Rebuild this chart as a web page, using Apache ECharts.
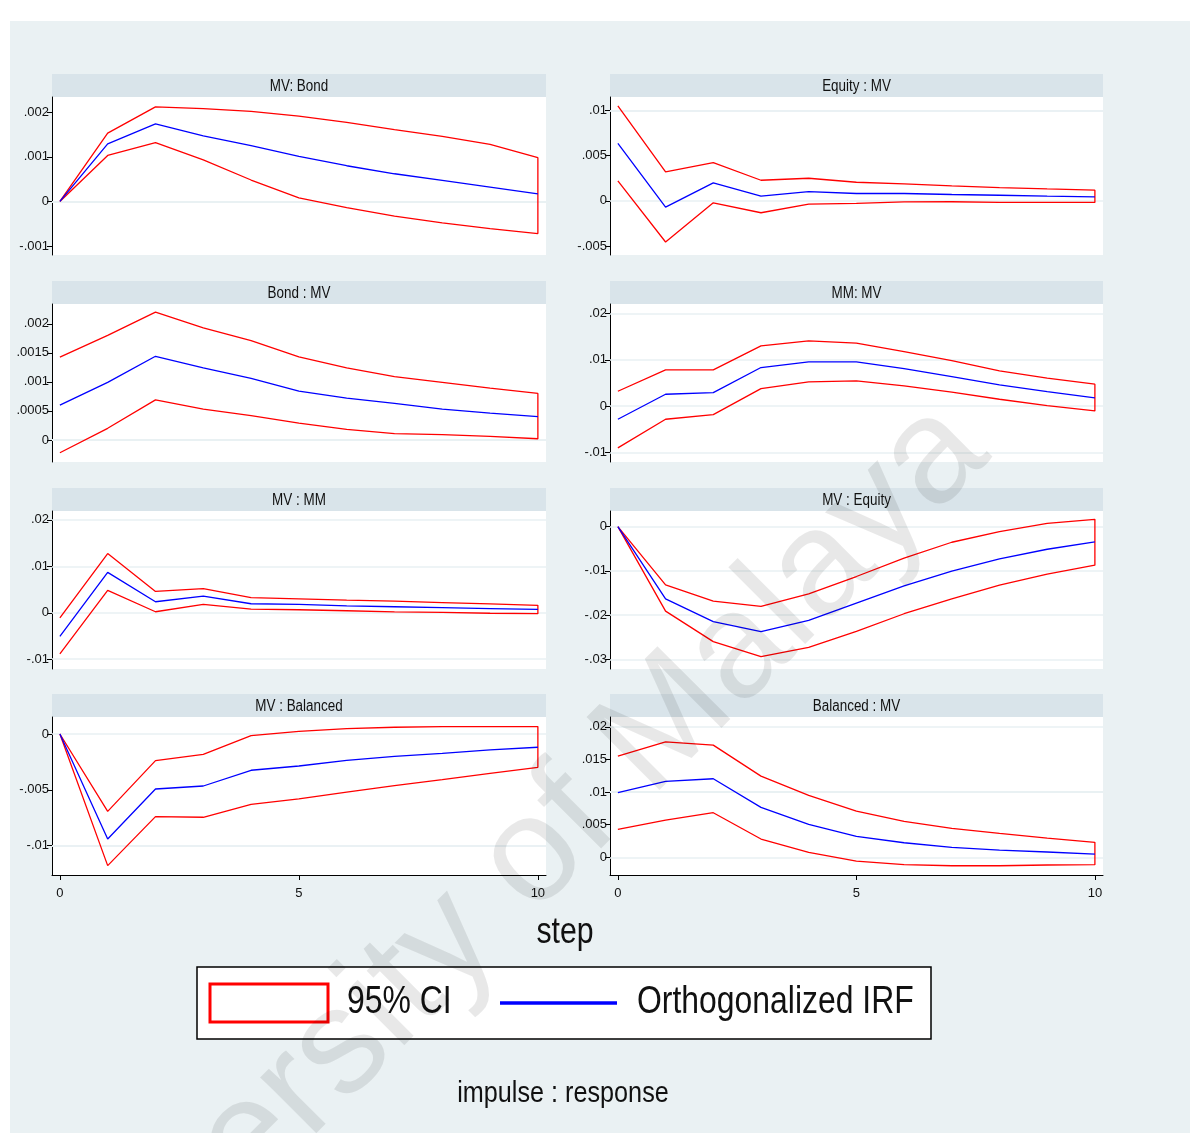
<!DOCTYPE html>
<html><head><meta charset="utf-8">
<script src="https://cdn.jsdelivr.net/npm/echarts@6/dist/echarts.min.js"></script>
<style>html,body{margin:0;padding:0;background:#fff}#c{width:1197px;height:1133px}</style>
</head><body><div id="c"></div>
<script>
// ---------- data ----------
const steps = [0,1,2,3,4,5,6,7,8,9,10];
const xTicks = [0,5,10];
const panelTitles = ['MV: Bond','Equity : MV','Bond : MV','MM: MV','MV : MM','MV : Equity','MV : Balanced','Balanced : MV'];

const mvBondHi  = [0, 0.00153, 0.00212, 0.00208, 0.00202, 0.00191, 0.00177, 0.00161, 0.00146, 0.00128, 0.00098];
const mvBondIrf = [0, 0.00129, 0.00174, 0.00147, 0.00125, 0.00101, 0.0008, 0.00062, 0.00047, 0.00032, 0.00017];
const mvBondLo  = [0, 0.00103, 0.00132, 0.00093, 0.00048, 0.00008, -0.00014, -0.00033, -0.00048, -0.00061, -0.00072];

const eqMvHi  = [0.01051, 0.0032, 0.00423, 0.00228, 0.0025, 0.00206, 0.00188, 0.00165, 0.00147, 0.00132, 0.00118];
const eqMvIrf = [0.00636, -0.0007, 0.00199, 0.00051, 0.00103, 0.00081, 0.00081, 0.0007, 0.00062, 0.00051, 0.00044];
const eqMvLo  = [0.0022, -0.00456, -0.00022, -0.00132, -0.00037, -0.00029, -0.00011, -0.0001, -0.00018, -0.00018, -0.00018];

const bondMvHi  = [0.001425, 0.0018, 0.0022, 0.00193, 0.00171, 0.00143, 0.00124, 0.00109, 0.00099, 0.00089, 0.0008];
const bondMvIrf = [0.0006, 0.00099, 0.00144, 0.00124, 0.00106, 0.00084, 0.00072, 0.00063, 0.00053, 0.00046, 0.0004];
const bondMvLo  = [-0.00022, 0.0002, 0.00069, 0.00053, 0.00042, 0.00029, 0.00018, 0.00011, 0.00009, 0.00006, 0.00002];

const mmMvHi  = [0.00323, 0.00782, 0.00782, 0.013, 0.01407, 0.01357, 0.01177, 0.00983, 0.0076, 0.00603, 0.00474];
const mmMvIrf = [-0.0028, 0.00258, 0.00294, 0.00833, 0.00955, 0.00955, 0.0081, 0.00639, 0.0046, 0.00316, 0.0018];
const mmMvLo  = [-0.00897, -0.0028, -0.0018, 0.0038, 0.00524, 0.00546, 0.00438, 0.00302, 0.0015, 0.00014, -0.001];

const mvMmHi  = [-0.00108, 0.01273, 0.0046, 0.00518, 0.00324, 0.003, 0.00273, 0.0025, 0.0022, 0.0019, 0.0016];
const mvMmIrf = [-0.0051, 0.0087, 0.00237, 0.0036, 0.00194, 0.0018, 0.0015, 0.0013, 0.0011, 0.0009, 0.00072];
const mvMmLo  = [-0.00885, 0.00482, 0.00022, 0.0018, 0.0008, 0.00065, 0.00043, 0.0002, 0.0001, -0.0001, -0.0002];

const mvEqHi  = [0, -0.01316, -0.01684, -0.01805, -0.01519, -0.01128, -0.00714, -0.00353, -0.00113, 0.00075, 0.00165];
const mvEqIrf = [0, -0.01632, -0.0215, -0.02376, -0.0212, -0.0173, -0.01338, -0.01008, -0.00729, -0.00511, -0.00346];
const mvEqLo  = [0, -0.0191, -0.026, -0.0294, -0.0273, -0.02368, -0.0197, -0.01632, -0.01323, -0.01075, -0.00872];

const mvBalHi  = [0, -0.00693, -0.00239, -0.00182, -0.00015, 0.00024, 0.00048, 0.0006, 0.00066, 0.00066, 0.00066];
const mvBalIrf = [0, -0.0094, -0.00493, -0.00466, -0.00325, -0.00287, -0.00236, -0.002, -0.00173, -0.00143, -0.00119];
const mvBalLo  = [0, -0.01179, -0.0074, -0.00746, -0.0063, -0.00582, -0.0052, -0.00463, -0.00409, -0.00352, -0.00299];

const balMvHi  = [0.01551, 0.0177, 0.01719, 0.01245, 0.00949, 0.00709, 0.00551, 0.00444, 0.00367, 0.00296, 0.0023];
const balMvIrf = [0.0099, 0.01163, 0.01204, 0.00765, 0.00505, 0.00321, 0.00224, 0.00153, 0.00112, 0.00082, 0.00051];
const balMvLo  = [0.00429, 0.00571, 0.00684, 0.00281, 0.00077, -0.00056, -0.00112, -0.00128, -0.00128, -0.00117, -0.00112];

const yTicks = [
  [-0.001, 0, 0.001, 0.002],
  [-0.005, 0, 0.005, 0.01],
  [0, 0.0005, 0.001, 0.0015, 0.002],
  [-0.01, 0, 0.01, 0.02],
  [-0.01, 0, 0.01, 0.02],
  [-0.03, -0.02, -0.01, 0],
  [-0.01, -0.005, 0],
  [0, 0.005, 0.01, 0.015, 0.02]
];
const yMins = [-0.0012, -0.006, -0.00038, -0.012, -0.0121, -0.0322, -0.01263, -0.0027];
const yMaxs = [0.00234, 0.0115, 0.00234, 0.022, 0.0219, 0.00354, 0.00152, 0.0215];

const hiSets  = [mvBondHi, eqMvHi, bondMvHi, mmMvHi, mvMmHi, mvEqHi, mvBalHi, balMvHi];
const irfSets = [mvBondIrf, eqMvIrf, bondMvIrf, mmMvIrf, mvMmIrf, mvEqIrf, mvBalIrf, balMvIrf];
const loSets  = [mvBondLo, eqMvLo, bondMvLo, mmMvLo, mvMmLo, mvEqLo, mvBalLo, balMvLo];

const legendLabels = ['95% CI', 'Orthogonalized IRF'];
const xTitle = 'step';
const noteText = 'impulse : response';
const watermark = 'University of Malaya';

// ---------- layout / style ----------
const NF = "'Liberation Sans',Arial,sans-serif";
const SX = 0.84; // horizontal condensing of text
const BG = '#eaf1f3';
const STRIP = '#d9e4ea';
const cols = [{left: 52, width: 494}, {left: 610, width: 493}];
const rowTops = [97, 304, 511, 717];
const plotH = 158, stripH = 23;

function stataFmt(v) {
  if (v === 0) return '0';
  let s = String(+v.toPrecision(6));
  return s.replace(/^(-?)0\./, '$1.');
}
function txt(x, y, text, size, align, extra) {
  return Object.assign({type: 'text', x: x, y: y, scaleX: SX,
    style: {text: text, font: size + 'px ' + NF, fill: '#111', textAlign: align, align: align,
      textVerticalAlign: 'middle', verticalAlign: 'middle'}}, extra || {});
}

const grids = [], xAxes = [], yAxes = [], series = [], graphics = [];
graphics.push({type: 'rect', z: -10, shape: {x: 10, y: 21, width: 1180, height: 1112}, style: {fill: BG}});

for (let i = 0; i < 8; i++) {
  const col = cols[i % 2], top = rowTops[Math.floor(i / 2)];
  const bottomRow = i >= 6;
  grids.push({left: col.left, top: top, width: col.width, height: plotH, show: true,
    backgroundColor: '#fff', borderWidth: 0});
  graphics.push({type: 'rect', z: -5, shape: {x: col.left, y: top - stripH, width: col.width, height: stripH},
    style: {fill: STRIP}});
  graphics.push(txt(col.left + col.width / 2, top - stripH / 2 + 1, panelTitles[i], 16, 'center', {z: -4}));
  xAxes.push({gridIndex: i, type: 'value', min: -0.165, max: 10.17,
    axisLine: {show: bottomRow, onZero: false, lineStyle: {color: '#000', width: 1}},
    axisTick: {show: bottomRow, customValues: xTicks, length: 5, lineStyle: {color: '#000'}},
    axisLabel: {show: bottomRow, customValues: xTicks, margin: 12, fontSize: 13, fontFamily: NF, color: '#111'},
    splitLine: {show: false}});
  yAxes.push({gridIndex: i, type: 'value', min: yMins[i], max: yMaxs[i],
    axisLine: {show: true, onZero: false, lineStyle: {color: '#000', width: 1}},
    axisTick: {show: true, customValues: yTicks[i], length: 5, lineStyle: {color: '#000'}},
    axisLabel: {customValues: yTicks[i], margin: 3, fontSize: 13, fontFamily: NF, color: '#111',
      formatter: stataFmt},
    splitLine: {show: false}});
  // gridlines at tick values (drawn beneath the curves)
  series.push({type: 'line', xAxisIndex: i, yAxisIndex: i, data: [], z: 1, silent: true,
    markLine: {z: 1, silent: true, symbol: 'none', animation: false, label: {show: false},
      lineStyle: {color: '#e9f1f3', width: 1.5, type: 'solid'},
      data: yTicks[i].map(v => ({yAxis: v}))}});
  const hi = hiSets[i], lo = loSets[i], irf = irfSets[i];
  const ci = steps.map((s, k) => [s, hi[k]]).concat(steps.slice().reverse().map(s => [s, lo[s]]));
  series.push({type: 'line', name: legendLabels[0], xAxisIndex: i, yAxisIndex: i, data: ci,
    showSymbol: false, symbol: 'none', z: 3, lineStyle: {color: '#ff0000', width: 1.3}});
  series.push({type: 'line', name: legendLabels[1], xAxisIndex: i, yAxisIndex: i,
    data: steps.map((s, k) => [s, irf[k]]),
    showSymbol: false, symbol: 'none', z: 4, lineStyle: {color: '#0000ff', width: 1.3}});
}

// axis title, legend, note
graphics.push(txt(565, 933, xTitle, 36, 'center'));
graphics.push({type: 'rect', shape: {x: 197, y: 967, width: 734, height: 72},
  style: {fill: '#fff', stroke: '#000', lineWidth: 1.5}});
graphics.push({type: 'rect', shape: {x: 210, y: 984, width: 118, height: 38},
  style: {fill: '#fff', stroke: '#ff0000', lineWidth: 3}});
graphics.push(txt(347, 1003, legendLabels[0], 38, 'left'));
graphics.push({type: 'line', shape: {x1: 500, y1: 1003, x2: 617, y2: 1003},
  style: {stroke: '#0000ff', lineWidth: 3.5}});
graphics.push(txt(637, 1003, legendLabels[1], 38, 'left'));
graphics.push(txt(563, 1094, noteText, 30, 'center'));
// watermark
graphics.push({type: 'text', z: 100, x: 486, y: 905, rotation: Math.PI / 4, silent: true,
  style: {text: watermark, font: '150px "Liberation Sans",Arial,sans-serif', fill: 'rgba(0,0,0,0.09)',
    textAlign: 'center', align: 'center', textVerticalAlign: 'middle', verticalAlign: 'middle'}});

const chart = echarts.init(document.getElementById('c'), null, {renderer: 'canvas'});
chart.setOption({
  animation: false,
  backgroundColor: '#fff',
  grid: grids, xAxis: xAxes, yAxis: yAxes, series: series,
  graphic: {elements: graphics}
});
</script></body></html>
